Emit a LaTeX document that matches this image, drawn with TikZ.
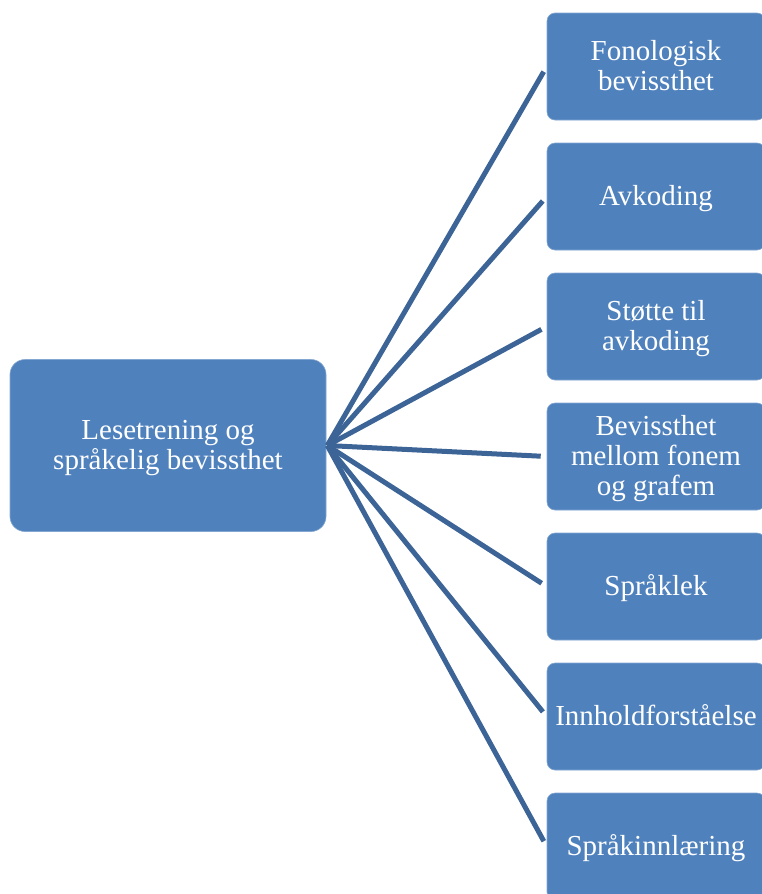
\documentclass[tikz,border=0pt]{standalone}
\usepackage{fontspec}
\setmainfont{Liberation Serif}
\definecolor{boxblue}{HTML}{4F81BD}
\definecolor{lineblue}{HTML}{3C6496}
\newcommand{\boxtext}[1]{\raisebox{0pt}[\dimexpr\height+6pt\relax][\depth]{\begin{tabular}{@{}c@{}}#1\end{tabular}}}
\begin{document}
\begin{tikzpicture}[x=1pt,y=-1pt,
  bx/.style={fill=boxblue,draw=boxblue!70!white,line width=0.6pt,text=white,align=center,
    font=\fontsize{29}{30}\selectfont,inner sep=0pt},
  leftbox/.style={bx,rounded corners=15pt,minimum width=316pt,minimum height=172pt},
  rightbox/.style={bx,rounded corners=8pt,minimum width=218pt,minimum height=107pt},
  conn/.style={draw=lineblue,line width=5pt,shorten >=6pt}]
\useasboundingbox (0,0) rectangle (761,894);
\node[leftbox] (L) at (168,445.5) {\boxtext{Lesetrening og\\språkelig bevissthet}};
\node[rightbox] (B1) at (656,66.5) {\boxtext{Fonologisk\\bevissthet}};
\node[rightbox] (B2) at (656,196.5) {\boxtext{Avkoding}};
\node[rightbox] (B3) at (656,326.5) {\boxtext{Støtte til\\avkoding}};
\node[rightbox] (B4) at (656,456.5) {\boxtext{Bevissthet\\mellom fonem\\og grafem}};
\node[rightbox] (B5) at (656,586.5) {\boxtext{Språklek}};
\node[rightbox] (B6) at (656,716.5) {\boxtext{Innholdforståelse}};
\node[rightbox] (B7) at (656,846.5) {\boxtext{Språkinnlæring}};
\foreach \i in {1,...,7}{\draw[conn] ([xshift=1pt]L.east) -- (B\i.west);}
\end{tikzpicture}
\end{document}
